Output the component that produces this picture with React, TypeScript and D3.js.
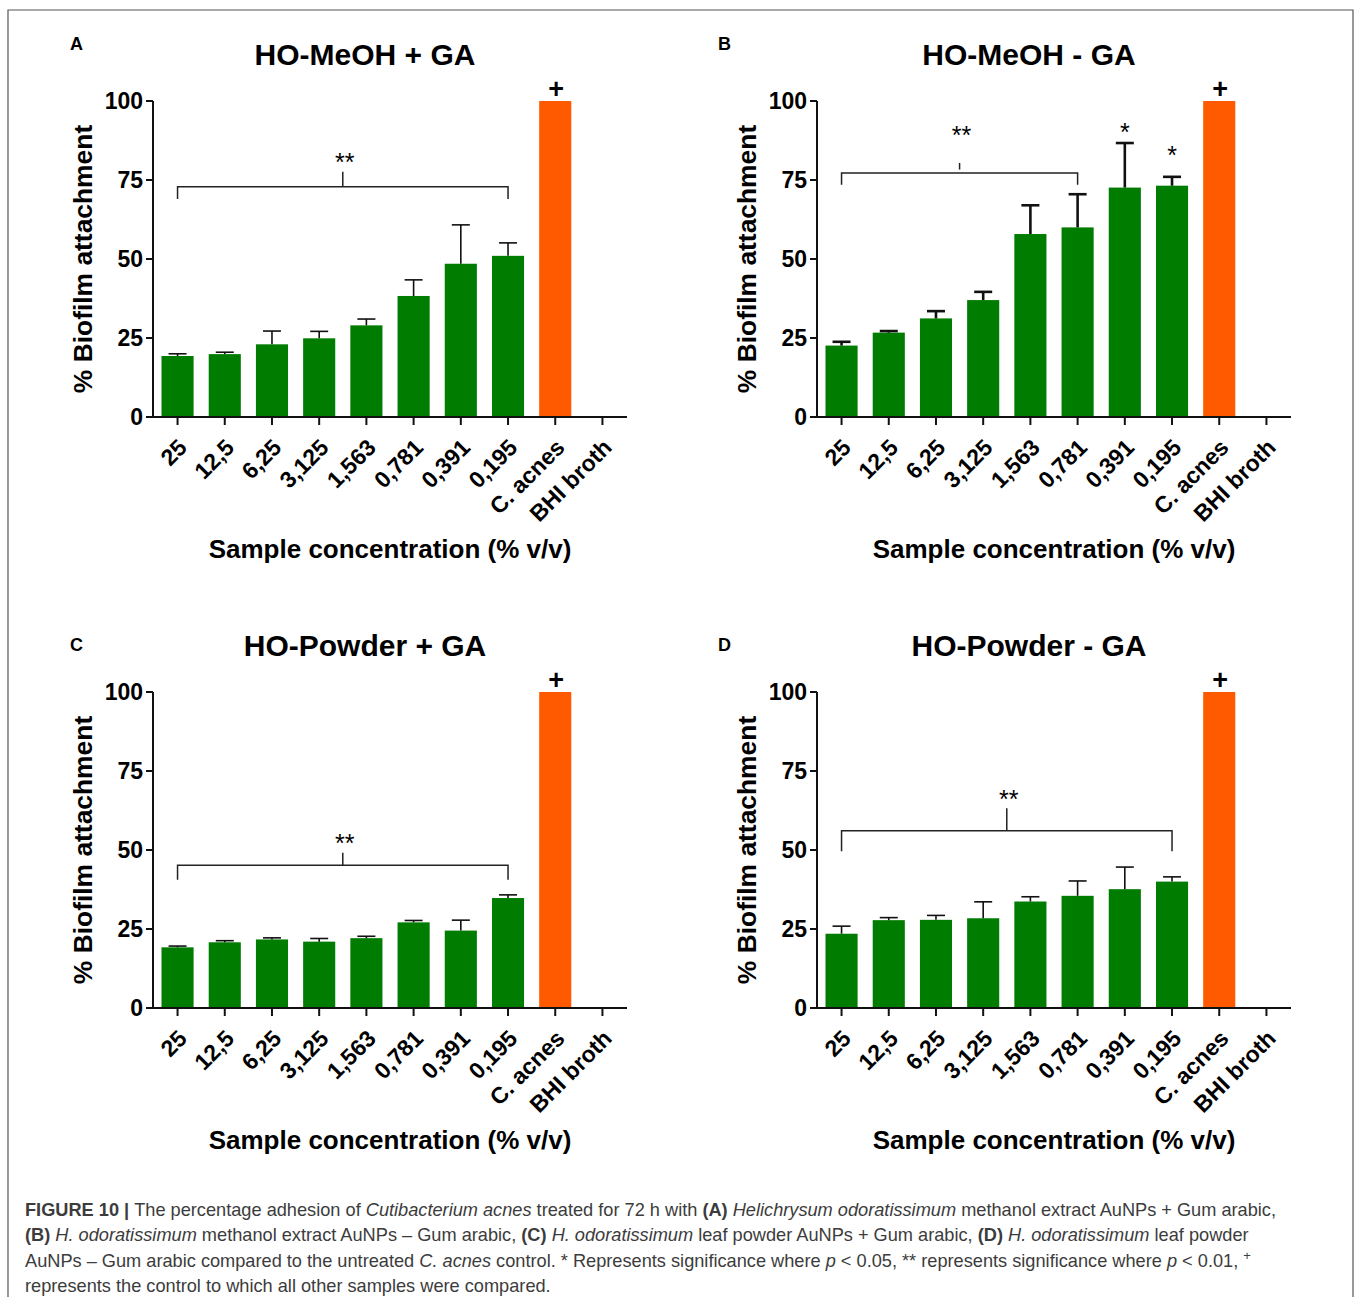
import React from 'react';
import * as d3 from 'd3';

const categories = ["25", "12,5", "6,25", "3,125", "1,563", "0,781", "0,391", "0,195", "C. acnes", "BHI broth"];
const yTicks = [0, 25, 50, 75, 100];

// mean % biofilm attachment and SD (upper error bar) per panel
const meansA = [19.3, 19.9, 23.0, 24.9, 29.0, 38.3, 48.5, 51.0, 100, null];
const sdA = [0.7, 0.6, 4.2, 2.2, 2.0, 5.1, 12.3, 4.1, null, null];
const meansB = [22.6, 26.7, 31.2, 37.0, 57.9, 60.0, 72.6, 73.2, 100, null];
const sdB = [1.2, 0.5, 2.3, 2.6, 9.1, 10.5, 14.1, 2.8, null, null];
const meansC = [19.2, 20.8, 21.7, 21.0, 22.1, 27.1, 24.5, 34.8, 100, null];
const sdC = [0.4, 0.5, 0.5, 1.0, 0.6, 0.6, 3.3, 1.0, null, null];
const meansD = [23.5, 27.8, 27.9, 28.4, 33.7, 35.5, 37.6, 40.0, 100, null];
const sdD = [2.4, 0.8, 1.4, 5.2, 1.5, 4.7, 7.0, 1.5, null, null];

// significance brackets: first/last category, level, leg end, centre tick from/to, star level
const bracketA = { from: "25", to: "0,195", level: 72.9, leg: 69.0, tick0: 72.9, tick1: 77.6, star: 83 };
const bracketB = { from: "25", to: "0,781", level: 77.2, leg: 73.5, tick0: 78.3, tick1: 80.4, star: 91.5 };
const bracketC = { from: "25", to: "0,195", level: 45.2, leg: 40.6, tick0: 45.2, tick1: 49.1, star: 54.5 };
const bracketD = { from: "25", to: "0,195", level: 56.1, leg: 49.6, tick0: 56.1, tick1: 63.2, star: 68.5 };
const starsB = [{ cat: "0,391", value: 92.5 }, { cat: "0,195", value: 85 }];

const panels = [
  { letter: "A", title: "HO-MeOH + GA", means: meansA, sd: sdA, bracket: bracketA, stars: [], dx: 0, dy: 0, lx: 70, ly: 50, errW: 1.6 },
  { letter: "B", title: "HO-MeOH - GA", means: meansB, sd: sdB, bracket: bracketB, stars: starsB, dx: 664, dy: 0, lx: 54, ly: 50, errW: 2.6 },
  { letter: "C", title: "HO-Powder + GA", means: meansC, sd: sdC, bracket: bracketC, stars: [], dx: 0, dy: 591, lx: 70, ly: 60, errW: 1.6 },
  { letter: "D", title: "HO-Powder - GA", means: meansD, sd: sdD, bracket: bracketD, stars: [], dx: 664, dy: 591, lx: 54, ly: 60, errW: 1.6 },
];

const GREEN = "#007c00";
const ORANGE = "#ff5a00";
const FONT = "'Liberation Sans', Arial, sans-serif";

const caption = [
  [["FIGURE 10 | ", "b"], ["The percentage adhesion of ", ""], ["Cutibacterium acnes", "i"], [" treated for 72 h with ", ""], ["(A)", "b"], [" ", ""], ["Helichrysum odoratissimum", "i"], [" methanol extract AuNPs + Gum arabic,", ""]],
  [["(B)", "b"], [" ", ""], ["H. odoratissimum", "i"], [" methanol extract AuNPs \u2013 Gum arabic, ", ""], ["(C)", "b"], [" ", ""], ["H. odoratissimum", "i"], [" leaf powder AuNPs + Gum arabic, ", ""], ["(D)", "b"], [" ", ""], ["H. odoratissimum", "i"], [" leaf powder", ""]],
  [["AuNPs \u2013 Gum arabic compared to the untreated ", ""], ["C. acnes", "i"], [" control. * Represents significance where ", ""], ["p", "i"], [" < 0.05, ** represents significance where ", ""], ["p", "i"], [" < 0.01, ", ""], ["+", "sup"]],
  [["represents the control to which all other samples were compared.", ""]],
];

function Panel({ p }) {
  const x = d3.scaleBand().domain(categories).range([153, 627]).paddingInner(0.32).paddingOuter(0.18);
  const y = d3.scaleLinear().domain([0, 100]).range([417, 101]);
  const bw = x.bandwidth();
  const cx = (c) => x(c) + bw / 2;
  const b = p.bracket;
  const bx0 = cx(b.from), bx1 = cx(b.to);
  const mid = (bx0 + bx1) / 2;
  return (
    <g transform={`translate(${p.dx},${p.dy})`} fontFamily={FONT}>
      <text x={p.lx} y={p.ly} fontSize={18} fontWeight="bold">{p.letter}</text>
      <text x={365} y={65} fontSize={30} fontWeight="bold" textAnchor="middle">{p.title}</text>

      {categories.map((c, i) => {
        const m = p.means[i];
        if (m == null) return null;
        const isCtrl = c === "C. acnes";
        const s = p.sd[i];
        return (
          <g key={c}>
            <rect x={x(c)} y={y(m)} width={bw} height={y(0) - y(m)} fill={isCtrl ? ORANGE : GREEN} />
            {s != null && (
              <g stroke="#111" strokeWidth={p.errW} fill="none">
                <line x1={cx(c)} x2={cx(c)} y1={y(m)} y2={y(m + s)} />
                <line x1={cx(c) - 9} x2={cx(c) + 9} y1={y(m + s)} y2={y(m + s)} />
              </g>
            )}
            {isCtrl && (
              <text x={cx(c) + 1} y={y(100) - 3} fontSize={27} fontWeight="bold" textAnchor="middle">+</text>
            )}
          </g>
        );
      })}

      {/* significance bracket */}
      <g stroke="#222" strokeWidth={1.5} fill="none">
        <path d={`M${bx0},${y(b.leg)}V${y(b.level)}H${bx1}V${y(b.leg)}`} />
        <line x1={mid} x2={mid} y1={y(b.tick0)} y2={y(b.tick1)} />
      </g>
      <text x={mid + 2} y={y(b.star) + 16} fontSize={25} textAnchor="middle">**</text>
      {p.stars.map((s) => (
        <text key={s.cat} x={cx(s.cat)} y={y(s.value) + 16} fontSize={25} textAnchor="middle">*</text>
      ))}

      {/* axes */}
      <g stroke="#111" strokeWidth={2} fill="none">
        <line x1={153} x2={153} y1={y(100)} y2={y(0)} />
        <line x1={152} x2={627} y1={y(0)} y2={y(0)} />
        {yTicks.map((t) => <line key={t} x1={146} x2={153} y1={y(t)} y2={y(t)} />)}
        {categories.map((c) => <line key={c} x1={cx(c)} x2={cx(c)} y1={y(0)} y2={y(0) + 8} />)}
      </g>
      {yTicks.map((t) => (
        <text key={t} x={143} y={y(t)} dy="0.36em" fontSize={23} fontWeight="bold" textAnchor="end">{t}</text>
      ))}
      {categories.map((c) => (
        <text key={c} transform={`translate(${cx(c) + 5},${443}) rotate(-45)`} dy="0.36em" fontSize={23} fontWeight="bold" textAnchor="end">{c}</text>
      ))}
      <text x={390} y={558} fontSize={26} fontWeight="bold" textAnchor="middle">Sample concentration (% v/v)</text>
      <text transform={`translate(92,259) rotate(-90)`} fontSize={26.4} fontWeight="bold" textAnchor="middle">% Biofilm attachment</text>
    </g>
  );
}

export default function App() {
  return (
    <div style={{ position: "absolute", left: 0, top: 0 }}>
      <svg width={1358} height={1297} style={{ display: "block", background: "#fff" }}>
        <path d="M8,1297V10H1353V1297" fill="none" stroke="#555" strokeWidth={1.2} />
        {panels.map((p) => <Panel key={p.letter} p={p} />)}
        <g fontFamily={FONT} fontSize={18.2} fill="#3c3c3c">
          {caption.map((line, li) => (
            <text key={li} x={25} y={1216 + li * 25.3}>
              {line.map(([t, s], k) => (
                <tspan key={k}
                  fontWeight={s === "b" ? "bold" : undefined}
                  fontStyle={s === "i" ? "italic" : undefined}
                  fontSize={s === "sup" ? 13 : undefined}
                  dy={s === "sup" ? -7 : undefined}
                  style={{ whiteSpace: "pre" }}>{t}</tspan>
              ))}
            </text>
          ))}
        </g>
      </svg>
    </div>
  );
}
